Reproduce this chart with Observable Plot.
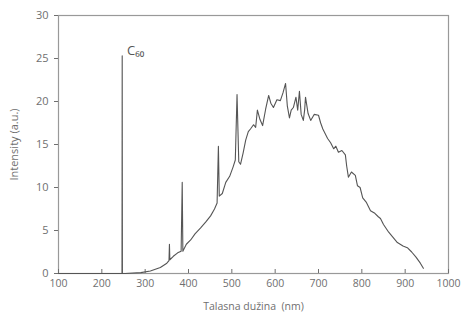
<!DOCTYPE html>
<html>
<head>
<meta charset="utf-8">
<script src="https://cdn.jsdelivr.net/npm/d3@7"></script>
<script src="https://cdn.jsdelivr.net/npm/@observablehq/plot@0.6"></script>
<style>
  html, body { margin: 0; padding: 0; background: #fff; }
  #chart { width: 462px; height: 331px; }
</style>
</head>
<body>
<div id="chart"></div>
<script>
const wavelength = [100, 240, 246.5, 247, 247.5, 254, 290, 312, 335, 350, 355, 356, 357, 365, 375, 383, 385.5, 387, 395, 405, 415, 428, 440, 451, 460, 466, 469, 471, 478, 486, 495, 503, 508, 512, 516, 520, 526, 532, 538, 543, 550, 555, 559, 565, 571, 578, 585, 590, 596, 604, 612, 618, 624, 628, 633, 637, 642, 648, 652, 656, 660, 665, 668, 670, 676, 682, 690, 700, 705, 710, 721, 728, 735, 740, 746, 754, 762, 765, 769, 776, 785, 790, 796, 802, 810, 820, 830, 838, 843, 850, 862, 872, 882, 895, 905, 915, 925, 935, 942];
const intensity = [0, 0, 0, 25.3, 0, 0, 0.1, 0.3, 0.7, 1.2, 1.5, 3.4, 1.6, 2.0, 2.4, 2.6, 10.6, 2.6, 3.4, 3.9, 4.6, 5.3, 6.0, 6.7, 7.5, 8.2, 14.8, 9.0, 9.3, 10.6, 11.3, 12.4, 13.2, 20.8, 13.0, 12.7, 14.0, 15.5, 16.5, 16.8, 17.3, 17.0, 19.0, 17.9, 17.2, 19.1, 20.7, 19.8, 19.3, 20.2, 20.1, 21.0, 22.1, 19.5, 18.1, 19.0, 19.3, 20.5, 19.0, 21.2, 18.5, 17.8, 19.0, 20.5, 18.6, 17.8, 18.5, 18.4, 17.5, 16.8, 15.7, 15.2, 14.5, 14.8, 14.1, 14.3, 13.8, 12.5, 11.2, 11.8, 11.4, 10.2, 10.0, 8.8, 8.3, 7.3, 7.0, 6.6, 6.4, 5.7, 4.8, 4.2, 3.6, 3.2, 3.0, 2.5, 1.9, 1.2, 0.6];
const xTicks = [100, 200, 300, 400, 500, 600, 700, 800, 900, 1000];
const yTicks = [0, 5, 10, 15, 20, 25, 30];
const peakLabel = [{x: 258, y: 25.9, text: "C₆₀"}];

const spectrum = wavelength.map((w, i) => ({w, v: intensity[i]}));
const gray = "#6f6f6f";

const chart = Plot.plot({
  width: 462,
  height: 331,
  marginLeft: 58,
  marginRight: 14,
  marginTop: 15,
  marginBottom: 58,
  style: {fontFamily: "'Open Sans', 'DejaVu Sans', sans-serif", fontSize: "10px", color: gray, background: "#fff"},
  x: {domain: [100, 1000]},
  y: {domain: [0, 30]},
  marks: [
    Plot.frame({stroke: "#999", strokeWidth: 1.2}),
    Plot.axisX({ticks: xTicks, tickFormat: "d", tickSize: -4, tickPadding: 10, stroke: gray, fill: gray, fontSize: 10.5, label: "Talasna dužina  (nm)", labelAnchor: "center", labelOffset: 36, labelArrow: "none"}),
    Plot.axisY({ticks: yTicks, tickSize: 4, tickPadding: 6, stroke: gray, fill: gray, fontSize: 11, label: "Intensity (a.u.)", labelAnchor: "center", labelOffset: 48, labelArrow: "none"}),
    Plot.line(spectrum, {x: "w", y: "v", stroke: "#555", strokeWidth: 1.1, curve: "linear"}),
    Plot.text(peakLabel, {x: "x", y: "y", text: "text", textAnchor: "start", fontSize: 13, fill: "#555"})
  ]
});
document.getElementById("chart").appendChild(chart);
</script>
</body>
</html>
